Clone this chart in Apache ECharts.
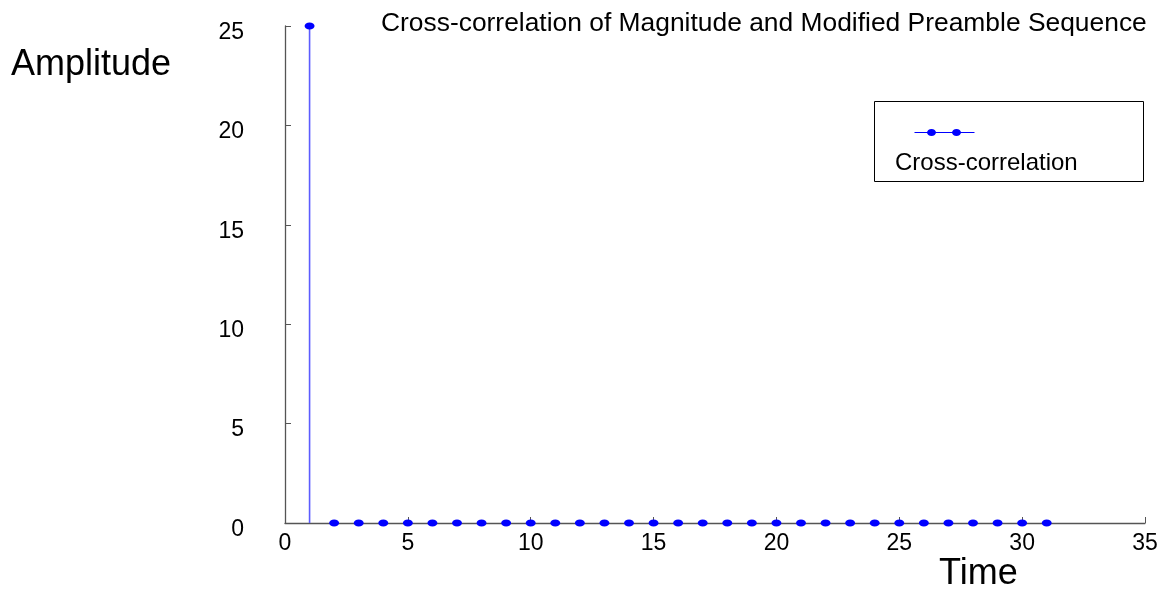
<!DOCTYPE html>
<html>
<head>
<meta charset="utf-8">
<script src="https://cdn.jsdelivr.net/npm/echarts@6/dist/echarts.min.js"></script>
<style>
html,body{margin:0;padding:0;background:#fff;}
#chart{width:1162px;height:592px;}
</style>
</head>
<body>
<div id="chart"></div>
<script>
// ---- data ----
const timeValues = [1,2,3,4,5,6,7,8,9,10,11,12,13,14,15,16,17,18,19,20,21,22,23,24,25,26,27,28,29,30,31];
const amplitudeValues = [25,0,0,0,0,0,0,0,0,0,0,0,0,0,0,0,0,0,0,0,0,0,0,0,0,0,0,0,0,0,0];
const xTickValues = [0,5,10,15,20,25,30,35];
const yTickValues = [0,5,10,15,20,25];
const seriesName = 'Cross-correlation';
const chartTitle = 'Cross-correlation of Magnitude and Modified Preamble Sequence';
const xName = 'Time';
const yName = 'Amplitude';

const points = timeValues.map((t, i) => [t, amplitudeValues[i]]);
const FONT = '"Liberation Sans", Arial, Helvetica, sans-serif';
const BLUE = '#0000ff';

const chart = echarts.init(document.getElementById('chart'), null, {renderer: 'canvas'});

chart.setOption({
  animation: false,
  backgroundColor: '#ffffff',
  title: [
    {text: chartTitle, left: 381, top: 11, padding: 0,
     textStyle: {fontFamily: FONT, fontSize: 26.4, fontWeight: 'normal', color: '#000'}},
    {text: yName, left: 11, top: 47, padding: 0,
     textStyle: {fontFamily: FONT, fontSize: 36, fontWeight: 'normal', color: '#000'}},
    {text: xName, left: 939, top: 556, padding: 0,
     textStyle: {fontFamily: FONT, fontSize: 36, fontWeight: 'normal', color: '#000'}}
  ],
  grid: {left: 285, right: 17, top: 26, bottom: 69, containLabel: false},
  xAxis: {
    type: 'value', min: xTickValues[0], max: xTickValues[xTickValues.length - 1], interval: 5,
    axisLine: {show: true, lineStyle: {color: '#555', width: 1.3}},
    axisTick: {show: true, inside: true, length: 6, lineStyle: {color: '#555', width: 1}},
    axisLabel: {margin: 9, fontFamily: FONT, fontSize: 23, color: '#000'},
    splitLine: {show: false}
  },
  yAxis: {
    type: 'value', min: yTickValues[0], max: yTickValues[yTickValues.length - 1], interval: 5,
    axisLine: {show: true, lineStyle: {color: '#555', width: 1.3}},
    axisTick: {show: true, inside: true, length: 6, lineStyle: {color: '#555', width: 1}},
    axisLabel: {margin: 41, fontFamily: FONT, fontSize: 23, color: '#000',
                verticalAlign: 'top', lineHeight: 13},
    splitLine: {show: false}
  },
  legend: {
    show: true, left: 890, top: 151, padding: 0, selectedMode: false,
    itemWidth: 0, itemHeight: 14, itemGap: 0,
    data: [{name: seriesName, icon: 'none'}],
    textStyle: {fontFamily: FONT, fontSize: 24, color: '#000'}
  },
  graphic: [
    {type: 'rect', left: 874, top: 101, z: 0, silent: true,
     shape: {width: 269, height: 80},
     style: {fill: '#fff', stroke: '#000', lineWidth: 1}},
    {type: 'group', left: 912, top: 129, z: 10, silent: true, children: [
      {type: 'line', shape: {x1: 0, y1: 3.5, x2: 60, y2: 3.5}, style: {stroke: BLUE, lineWidth: 1}},
      {type: 'ellipse', shape: {cx: 17, cy: 3.5, rx: 4.5, ry: 3.5}, style: {fill: BLUE}},
      {type: 'ellipse', shape: {cx: 42, cy: 3.5, rx: 4.5, ry: 3.5}, style: {fill: BLUE}}
    ]}
  ],
  series: [
    {
      type: 'bar', name: 'stem', silent: true, z: 2,
      barWidth: 1.6, barGap: '-100%',
      itemStyle: {color: '#5c5cff', opacity: 1},
      data: points
    },
    {
      type: 'scatter', name: seriesName, z: 3, clip: false,
      data: points, symbol: 'circle', symbolSize: [10, 7],
      itemStyle: {color: BLUE, opacity: 1}
    }
  ]
});
</script>
</body>
</html>
